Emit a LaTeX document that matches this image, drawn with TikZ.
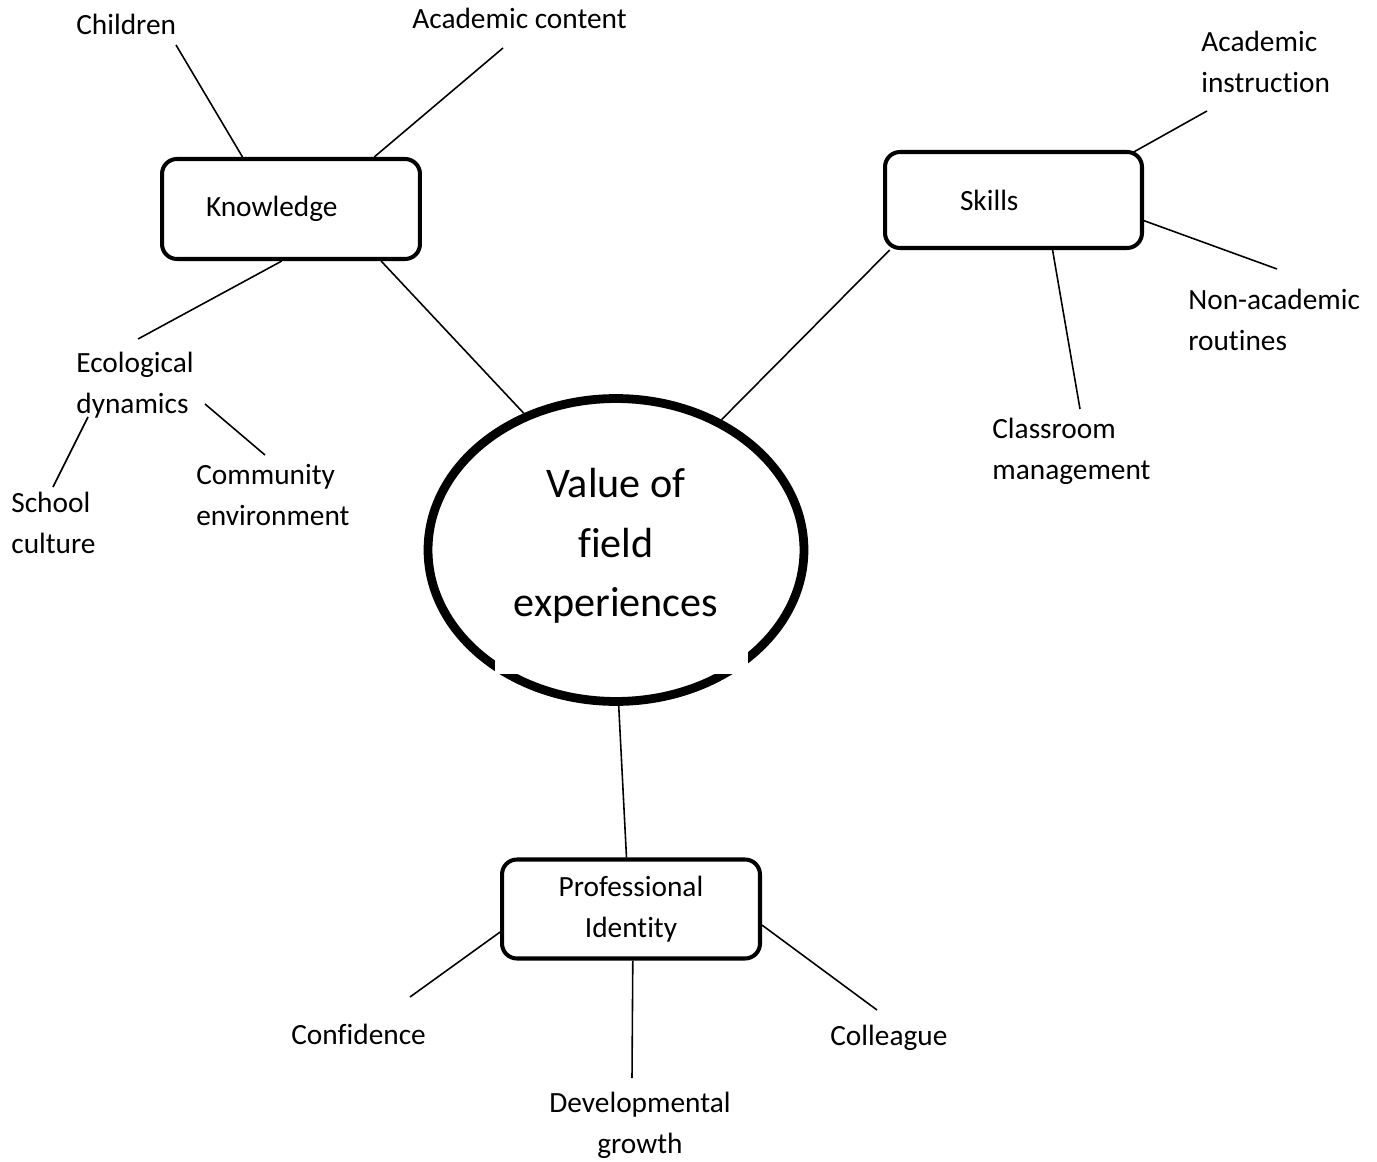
\documentclass[tikz,border=0pt]{standalone}
\usepackage{fontspec}
\setmainfont{Carlito}[Ligatures=NoCommon]
\usepackage{tikz}
\usetikzlibrary{shapes.geometric}

\begin{document}
\begin{tikzpicture}[x=0.02cm, y=-0.02cm,
	lab/.style={font=\fontsize{16.7}{23.5}\selectfont, align=left, inner sep=0pt, anchor=west},
	box/.style={draw, rounded corners=8.5pt, line width=2.3pt, font=\fontsize{16.7}{23.5}\selectfont},
	link/.style={line width=0.9pt}]
	\useasboundingbox (0,0) rectangle (1377,1162);
	% centre
	\node (main) at (616,550) [ellipse, draw, line width=5pt, minimum width=7.52cm, minimum height=6.06cm, inner sep=0pt, align=center, font=\fontsize{24}{34}\selectfont] {Value of\\field\\experiences\rule[-0.3cm]{0pt}{0pt}};
	\fill[white] (495,652) rectangle (748,674);
	% boxes
	\node (know) at (291,209) [box, inner xsep=0.88cm, text width=3.4cm, minimum height=2cm, align=left] {Knowledge};
	\node (skills) at (1013.5,200) [box, inner xsep=1.5cm, text width=2.14cm, minimum height=1.92cm, align=left] {Skills};
	\node (prof) at (631,909) [box, inner xsep=0.5cm, text width=4.16cm, minimum height=1.98cm, align=center] {Professional\\Identity};
	% labels
	\node (chi) at (76,24) [lab] {Children};
	\node (aco) at (412,18) [lab] {Academic content};
	\node (ain) at (1201,62) [lab] {Academic\\instruction};
	\node (non) at (1188,320) [lab] {Non-academic\\routines};
	\node (cla) at (992,451) [lab] {Classroom\\management};
	\node (eco) at (76,385) [lab] {Ecological\\dynamics};
	\node (sch) at (11,523) [lab] {School\\culture};
	\node (com) at (196,495) [lab] {Community\\environment};
	\node (con) at (291,1034) [lab] {Confidence};
	\node (dev) at (640,1125) [lab, anchor=center, align=center] {Developmental\\growth};
	\node (col) at (830,1038) [lab] {Colleague};
	% line ends
	\coordinate (chi-end) at (176,45);
	\coordinate (aco-end) at (503,48);
	\coordinate (eco-end) at (138,339);
	\coordinate (ain-end) at (1207,111);
	\coordinate (non-end) at (1277,269);
	\coordinate (cla-end) at (1080,409);
	\coordinate (sch-top) at (88,417);
	\coordinate (sch-end) at (53,487);
	\coordinate (com-top) at (205,404);
	\coordinate (com-end) at (265,455);
	\coordinate (con-end) at (410,997);
	\coordinate (dev-end) at (632,1078);
	\coordinate (col-end) at (877,1010);
	% links
	\draw[link] (main.124) -- (know.-30);
	\draw[link] (main.51) -- (skills.202);
	\draw[link] (main.-89) -- (prof.95);
	\draw[link] (know.133) -- (chi-end);
	\draw[link] (know.32) -- (aco-end);
	\draw[link] (know.-100) -- (eco-end);
	\draw[link] (sch-top) -- (sch-end);
	\draw[link] (com-top) -- (com-end);
	\draw[link, shorten <=-4pt] (skills.22) -- (ain-end);
	\draw[link] (skills.-9) -- (non-end);
	\draw[link] (skills.-52) -- (cla-end);
	\draw[link] (prof.190) -- (con-end);
	\draw[link] (prof.-88) -- (dev-end);
	\draw[link] (prof.-7) -- (col-end);
\end{tikzpicture}
\end{document}
